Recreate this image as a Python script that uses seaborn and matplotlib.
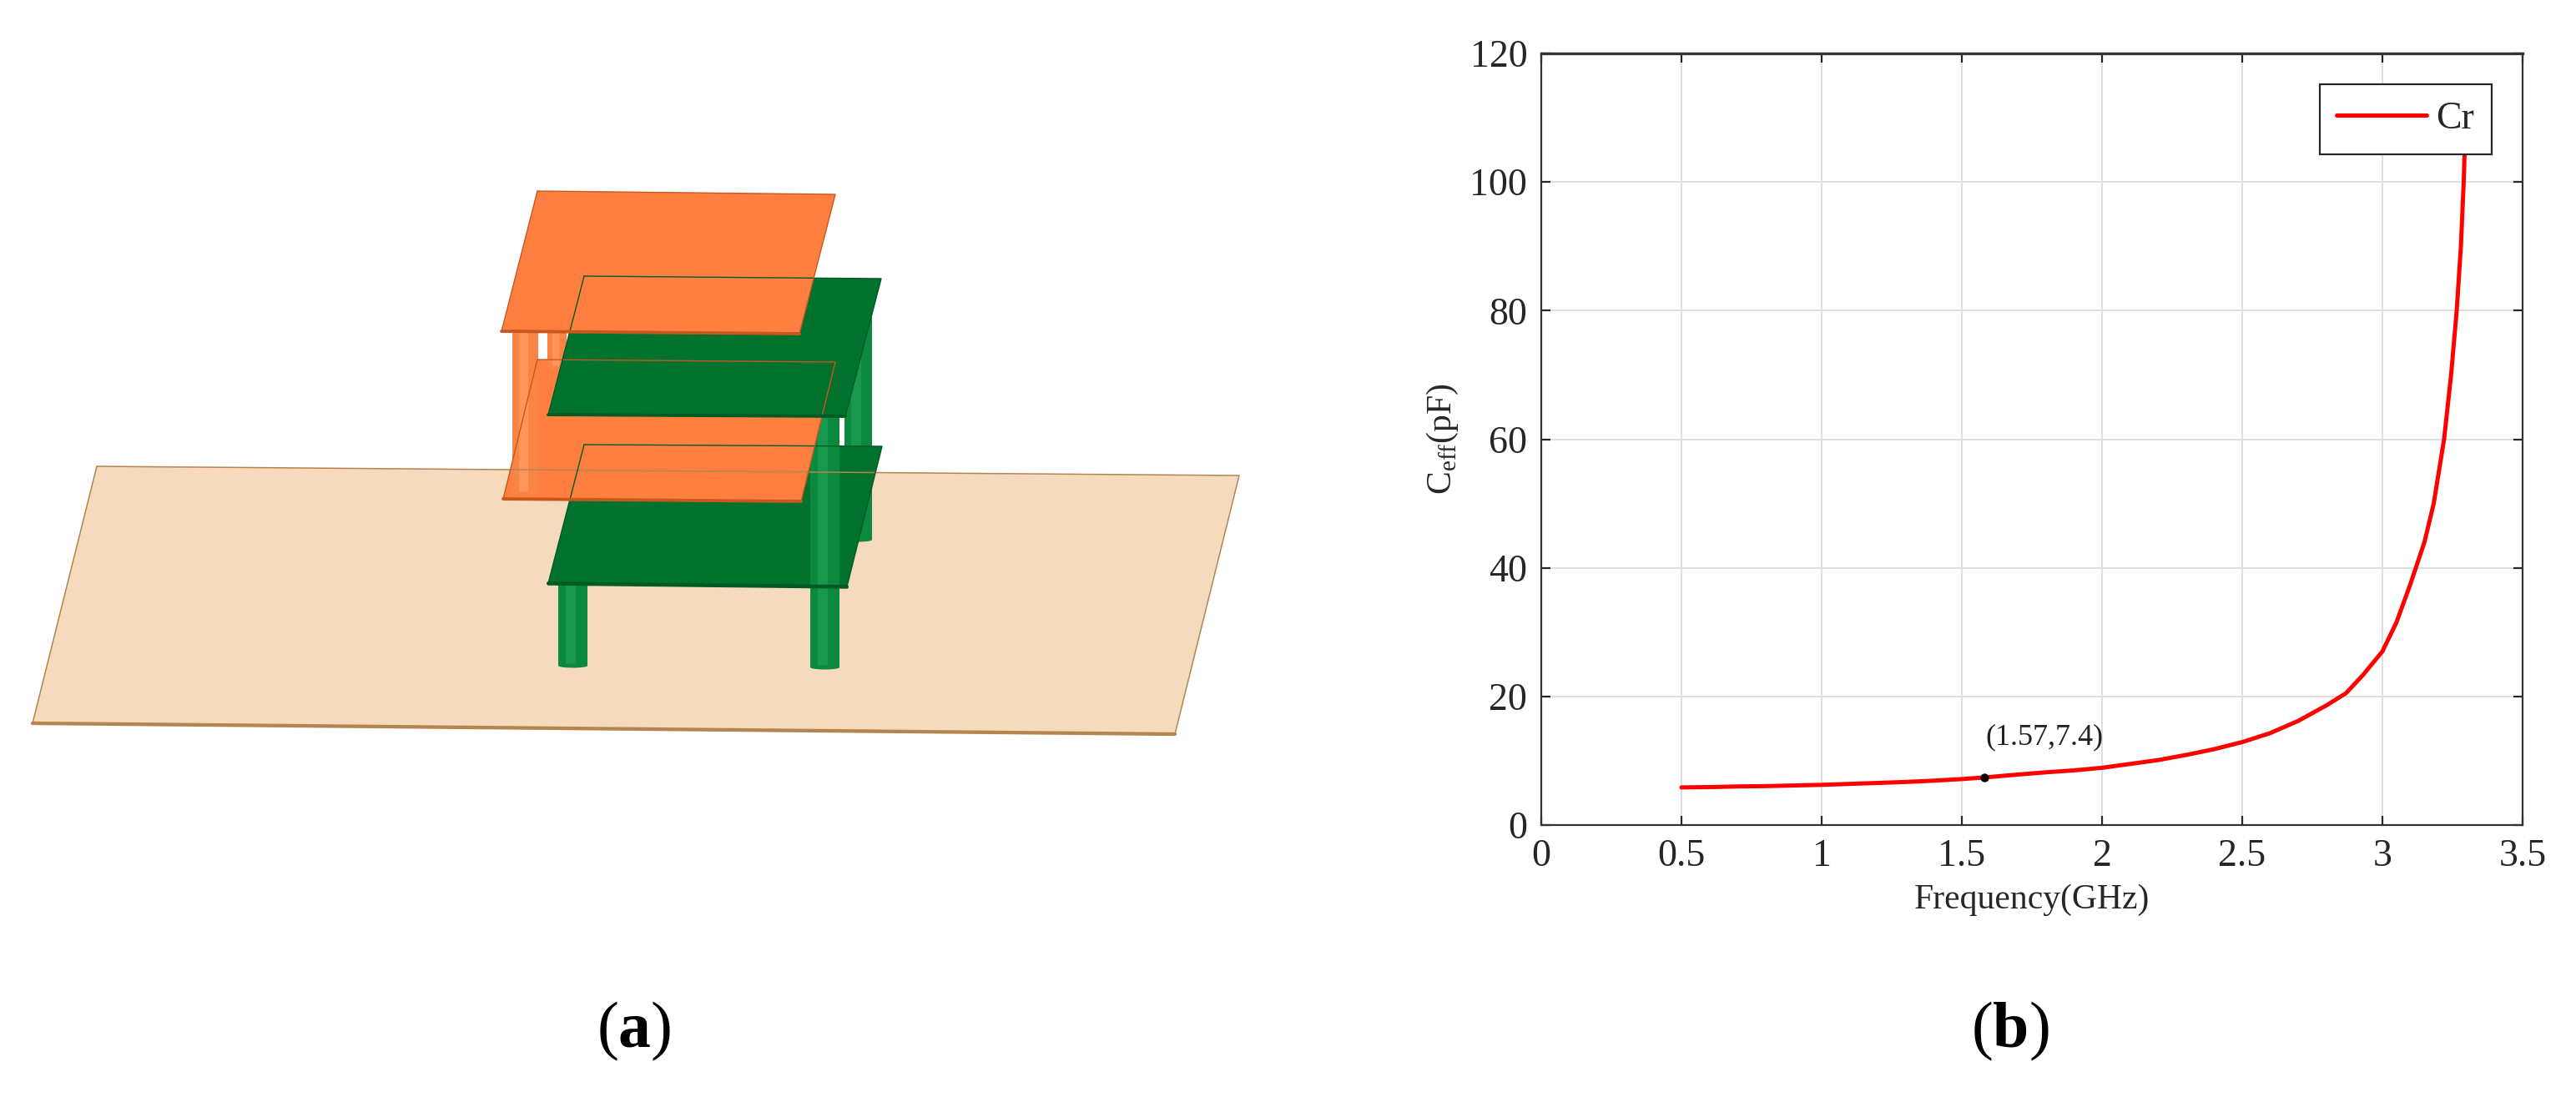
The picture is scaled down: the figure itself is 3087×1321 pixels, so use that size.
import matplotlib
matplotlib.use('Agg')
import numpy as np
import pandas as pd
import matplotlib.pyplot as plt
import seaborn as sns

# curve
freq = [0.5, 0.6, 0.7, 0.8, 0.9, 1.0, 1.1, 1.2, 1.3, 1.4, 1.5, 1.58, 1.7, 1.8, 1.9, 2.0,
        2.1, 2.2, 2.3, 2.4, 2.5, 2.6, 2.7, 2.8, 2.87, 2.93, 3.0, 3.05, 3.1, 3.15, 3.183,
        3.22, 3.245, 3.265, 3.28, 3.29, 3.297]
cap = [5.85, 5.9, 6.0, 6.05, 6.15, 6.25, 6.4, 6.55, 6.7, 6.9, 7.15, 7.4, 7.85, 8.2, 8.5, 8.9,
       9.5, 10.1, 10.9, 11.8, 12.9, 14.3, 16.2, 18.6, 20.5, 23.3, 27, 31.5, 37.5, 44, 50,
       60, 70, 80, 90, 100, 110]
xticks = [0, 0.5, 1, 1.5, 2, 2.5, 3, 3.5]
xticklabels = ['0', '0.5', '1', '1.5', '2', '2.5', '3', '3.5']
yticks = [0, 20, 40, 60, 80, 100, 120]
marked = (1.58, 7.4)

# panel (a) drawing, in image pixels
ground = [(116, 559), (1485, 570), (1408, 880), (39, 867)]
orange_top = [(644, 229), (1001, 233), (958, 400), (601, 397)]
orange_low = [(644, 431), (1001, 434), (960, 601), (603, 598)]
green_top = [(700, 331), (1056, 334), (1013, 499), (657, 497)]
green_low = [(700, 533), (1057, 535), (1015, 703), (657, 699)]

W, H = 3087, 1321
sns.set_theme(style='white')
plt.rcParams['font.family'] = ['Liberation Serif', 'DejaVu Serif']
plt.rcParams['mathtext.fontset'] = 'custom'
plt.rcParams['mathtext.rm'] = 'Liberation Serif'
plt.rcParams['mathtext.bf'] = 'Liberation Serif:bold'

fig = plt.figure(figsize=(W / 100, H / 100), dpi=100)
fig.patch.set_facecolor('white')

# (a) model
ax0 = fig.add_axes([0, 0, 1, 1])
ax0.set_xlim(0, W)
ax0.set_ylim(H, 0)
ax0.axis('off')


def plate(pts, face, edge, lw=2.0):
    ax0.fill(*zip(*pts), facecolor=face, edgecolor='none')
    # front edge looks darker
    ax0.plot([pts[3][0], pts[2][0]], [pts[3][1], pts[2][1]], color=edge, lw=lw * 1.4, solid_capstyle='round')
    ax0.plot([pts[0][0], pts[1][0], pts[2][0]], [pts[0][1], pts[1][1], pts[2][1]], color=edge, lw=lw * 0.5)
    ax0.plot([pts[0][0], pts[3][0]], [pts[0][1], pts[3][1]], color=edge, lw=lw * 0.5)


def pillar(x0, x1, y0, y1, base, light):
    ax0.fill([x0, x1, x1, x0], [y0, y0, y1, y1], color=base, lw=0)
    w = x1 - x0
    ax0.fill([x0 + 0.25 * w, x0 + 0.6 * w, x0 + 0.6 * w, x0 + 0.25 * w], [y0, y0, y1, y1], color=light, lw=0)
    ax0.add_patch(matplotlib.patches.Ellipse(((x0 + x1) / 2, y1), w, 5, color=base, lw=0))


GB, GL = '#0B8A3F', '#16994C'
OB, OL = '#F98444', '#FF9558'

plate(ground, '#F5DABD', '#B5854F', lw=2.2)
# back pillars
pillar(1012, 1045, 380, 647, GB, GL)
plate(green_low, '#00722E', '#005A24')
pillar(971, 1006, 500, 800, GB, GL)
pillar(669, 704, 700, 798, GB, GL)
# lower green plate edge sits in front of the legs
ax0.plot([657, 1015], [700, 704], color='#005A24', lw=2.5)
plate(orange_low, '#FF7F41', '#C9581E')
pillar(656, 679, 398, 441, OB, OL)
pillar(614, 645, 398, 592, OB, OL)
plate(green_top, '#00722E', '#005A24')
plate(orange_top, '#FF7F41', '#C9581E')

# (b) curve
left, right, top, bottom = 1847, 3023, 64, 989
ax = fig.add_axes([left / W, 1 - bottom / H, (right - left) / W, (bottom - top) / H])
df = pd.DataFrame({'freq': freq, 'Cr': cap})
sns.lineplot(data=df, x='freq', y='Cr', color='#FF0000', lw=3.6, label='Cr', errorbar=None, ax=ax)
ax.set_xlim(0, 3.5)
ax.set_ylim(0, 120)
ax.set_xticks(xticks)
ax.set_xticklabels(xticklabels)
ax.set_yticks(yticks)
ax.grid(True, color='#DCDCDC', lw=1.3)
ax.set_axisbelow(True)
ax.tick_params(direction='in', length=8, width=1.6, top=True, right=True, bottom=True, left=True,
               labelsize=33, labelcolor='#262626', color='#262626', pad=12)
for s in ax.spines.values():
    s.set_color('#333333')
    s.set_linewidth(1.6)
    s.set_visible(True)
ax.spines['top'].set_linewidth(2.4)
ax.set_xlabel('Frequency(GHz)', fontsize=30, color='#262626', labelpad=8)
ax.set_ylabel('C$_{\\mathrm{eff}}$(pF)', fontsize=30, color='#262626', labelpad=8)

ax.scatter([marked[0]], [marked[1]], s=55, color='black', zorder=5, linewidths=0)
ax.annotate('(1.57,7.4)', xy=(1.585, 13.7), fontsize=26, color='#222222', va='center', ha='left')

leg = ax.legend(loc='upper right', bbox_to_anchor=(0.9685, 0.96), borderaxespad=0, fontsize=33,
                frameon=True, fancybox=False, framealpha=1, edgecolor='#262626',
                handlelength=2.35, handletextpad=0.25, borderpad=0.45)
leg.get_frame().set_linewidth(1.6)
leg.set_zorder(10)

fig.text(760 / W, 1 - 1236 / H, '($\\mathbf{a}$)', fontsize=56, color='black', ha='center', va='center')
fig.text(2409 / W, 1 - 1236 / H, '($\\mathbf{b}$)', fontsize=56, color='black', ha='center', va='center')

plt.savefig('out.png', dpi=100, facecolor='white')
